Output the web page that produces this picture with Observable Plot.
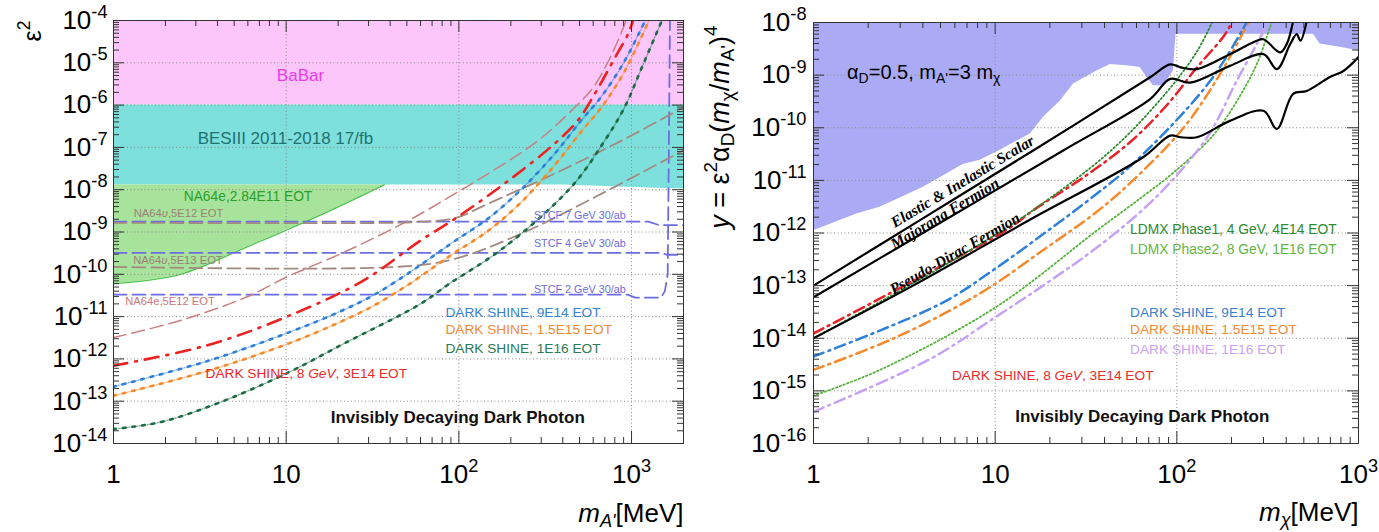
<!DOCTYPE html>
<html><head><meta charset="utf-8">
<script src="https://cdn.jsdelivr.net/npm/d3@7"></script>
<script src="https://cdn.jsdelivr.net/npm/@observablehq/plot@0.6"></script>
<style>
html,body{margin:0;padding:0;background:#fff;overflow:hidden}
#wrap{display:flex;width:1379px;height:532px}
#wrap svg{flex:none;max-width:none;overflow:visible}
</style></head><body><div id="wrap"></div>
<script>
const FONT = '"Liberation Sans", Arial, Helvetica, sans-serif';
const SERIF = '"Liberation Serif", "Times New Roman", serif';

// ================= LEFT PANEL: m_A' [MeV] vs epsilon^2 =================
const leftXTicks = [1, 10, 100, 1000];
const leftXTickLabels = ["1", "10", "10^{2}", "10^{3}"];
const leftYTicks = [1e-4, 1e-5, 1e-6, 1e-7, 1e-8, 1e-9, 1e-10, 1e-11, 1e-12, 1e-13, 1e-14];
const leftYTickLabels = ["10^{-4}", "10^{-5}", "10^{-6}", "10^{-7}", "10^{-8}", "10^{-9}", "10^{-10}", "10^{-11}", "10^{-12}", "10^{-13}", "10^{-14}"];

// excluded regions
const babarMass = [1, 2000];
const babarLow = [1e-6, 1e-6];
const babarHigh = [1e-4, 1e-4];
const besMass = [1, 400, 1700, 2000];
const besLow = [1.3e-8, 1.3e-8, 1.05e-8, 1.05e-8];
const besHigh = [1e-6, 1e-6, 1e-6, 1e-6];
const na64eMass = [1, 2.44, 5.9, 10, 18, 37];
const na64eLow = [6e-11, 1.0e-10, 4.4e-10, 1.1e-9, 3.2e-9, 1.3e-8];
const na64eHigh = [1.3e-8, 1.3e-8, 1.3e-8, 1.3e-8, 1.3e-8, 1.3e-8];

// projected sensitivities [mass, eps^2]
const na64e5e12 = [[1,3.2e-12],[2.44,8.1e-12],[5.9,2.9e-11],[10,8.5e-11],[22.6,3.6e-10],[55,2.2e-9],[94,7.9e-9],[148,2.4e-8],[288,1.45e-7],[470,8.9e-7],[600,2.6e-6],[750,1.3e-5],[900,7e-5],[960,1.5e-4]];
const na64u5e12 = [[1,1.65e-9],[40,1.65e-9],[60,1.75e-9],[94,2.1e-9],[148,4.7e-9],[359,2.4e-8],[877,1.45e-7],[2000,8.9e-7]];
const na64u5e13 = [[1,1.5e-10],[44,1.5e-10],[94,2.3e-10],[229,9.1e-10],[560,5.5e-9],[2000,8.5e-8]];
const stcf7 = [[1,1.75e-9],[1250,1.75e-9],[1450,1.45e-9],[2000,1.45e-9]];
const stcf4 = [[1,3.2e-10],[1500,3.2e-10],[1600,2.9e-10],[2000,2.9e-10]];
const stcf2 = [[1,3.3e-11],[950,3.3e-11],[1050,2.8e-11],[1480,2.8e-11],[1560,4e-11],[1620,1e-10],[1670,1e-4]];
const dsRedL = [[1,6.9e-13],[3.5,2.1e-12],[10,9.8e-12],[28,7.1e-11],[60,6.3e-10],[94,2.0e-9],[184,1.4e-8],[359,1.23e-7],[490,4.4e-7],[615,1.9e-6],[800,1.3e-5],[960,5e-5],[1020,1e-4]];
const dsBlueL = [[1,2.2e-13],[3.5,8.9e-13],[10,4.0e-12],[20,1.26e-11],[32,3.2e-11],[50,1.0e-10],[72,2.8e-10],[94,6.0e-10],[148,2.1e-9],[229,1.0e-8],[359,7.1e-8],[513,4.4e-7],[670,1.6e-6],[912,1.1e-5],[1200,1e-4]];
const dsOrangeL = [[1,1.35e-13],[3.5,5.2e-13],[10,2.2e-12],[20,7.1e-12],[32,1.8e-11],[50,5.4e-11],[72,1.5e-10],[94,3.2e-10],[148,1.07e-9],[229,5.0e-9],[359,3.8e-8],[513,2.4e-7],[670,8.9e-7],[912,6.3e-6],[1260,1e-4]];
const dsGreenL = [[1,2.2e-14],[1.87,3.2e-14],[4,8.9e-14],[10,4.5e-13],[21.6,2.3e-12],[60,2.0e-11],[86,5.6e-11],[184,4.4e-10],[447,1.15e-8],[700,1.45e-7],[912,8.9e-7],[1150,7.9e-6],[1500,1e-4]];

// ================= RIGHT PANEL: m_chi [MeV] vs y =================
const rightXTicks = [1, 10, 100, 1000];
const rightXTickLabels = ["1", "10", "10^{2}", "10^{3}"];
const rightYTicks = [1e-8, 1e-9, 1e-10, 1e-11, 1e-12, 1e-13, 1e-14, 1e-15, 1e-16];
const rightYTickLabels = ["10^{-8}", "10^{-9}", "10^{-10}", "10^{-11}", "10^{-12}", "10^{-13}", "10^{-14}", "10^{-15}", "10^{-16}"];

const excludedMass = [1,1.73,2.32,4.03,6.67,8.26,10.6,15.6,18.5,22.8,27.0,36.3,43.0,53.1,62.8,68.4,74.3,84.3,95.7,99,565,615,793,1000];
const excludedLow = [1.1e-12,2.3e-12,3.1e-12,7.4e-12,2.0e-11,2.4e-11,3.7e-11,7.6e-11,1.6e-10,3.2e-10,6.8e-10,1.2e-9,1.6e-9,1.5e-9,1.4e-9,9.1e-10,6.3e-10,6.3e-10,1.2e-9,6.0e-9,6.0e-9,3.9e-9,3.4e-9,2.9e-9];

const scalarTarget = [[1,1.0e-13],[4,1.9e-12],[16.2,3.7e-11],[71.3,9.1e-10],[92,1.6e-9],[105,1.4e-9],[129,1.3e-9],[196,2.5e-9],[275,4.5e-9],[300,4.8e-9],[355,2.9e-9],[372,2.7e-9],[403,3.9e-9],[437,1.07e-8]];
const majoranaTarget = [[1,6.0e-14],[4,1.0e-12],[23.7,3.7e-11],[71.3,3.5e-10],[92,8.5e-10],[118,7.2e-10],[196,1.5e-9],[300,2.5e-9],[355,1.3e-9],[421,3.9e-9],[457,6.0e-9],[479,4.5e-9],[519,1.07e-8]];
const pseudoDiracTarget = [[1,1.0e-14],[3.53,1.0e-13],[15.6,1.8e-12],[65.2,2.75e-11],[92,7.1e-11],[105,6.6e-11],[129,6.6e-11],[196,1.35e-10],[300,2.1e-10],[355,9.5e-11],[437,4.4e-10],[519,5.0e-10],[692,9.1e-10],[826,1.2e-9],[1000,2.2e-9]];
const dsRedR = [[1,1.23e-14],[3.16,1.0e-13],[11.8,1.2e-12],[16.2,2.7e-12],[31.6,1.23e-11],[56.2,5.6e-11],[89,2.8e-10],[129,1.4e-9],[182,5.6e-9],[204,1.1e-8]];
const dsBlueR = [[1,4.5e-15],[2.32,1.4e-14],[5.4,5.2e-14],[10.2,2.2e-13],[19.1,1.05e-12],[36.1,5.5e-12],[52.8,1.6e-11],[95.7,1.2e-10],[158,9.1e-10],[233,7.9e-9],[245,1.1e-8]];
const dsOrangeR = [[1,2.5e-15],[2.86,1.05e-14],[8.24,7.1e-14],[19.1,5.2e-13],[36.1,2.5e-12],[55.3,8.9e-12],[109,1.0e-10],[173,1.05e-9],[251,1.1e-8]];
const dsPurpleR = [[1,4.0e-16],[4.37,4.0e-15],[10,2.5e-14],[19.1,1.1e-13],[35.5,5.0e-13],[65.2,2.8e-12],[100,1.26e-11],[151,7.6e-11],[214,7.9e-10],[300,6.9e-9],[316,1.1e-8]];
const ldmx1 = [[1,1.0e-14],[3.16,8.9e-14],[7.9,5.6e-13],[15.6,2.5e-12],[42.7,3.5e-11],[84.3,4.0e-10],[129,2.8e-9],[158,1.1e-8]];
const ldmx2 = [[1,8.1e-16],[2.32,2.5e-15],[10.2,4.0e-14],[36.1,1.1e-12],[65.2,5.0e-12],[95.7,1.4e-11],[158,7.1e-11],[214,3.2e-10],[275,1.6e-9],[326,8.1e-9],[340,1.2e-8]];

// ================= annotations =================
const leftNotes = [
  {t:"BaBar", x:12.1, y:3.8e-6, c:"#ee3bee", s:17, a:"middle"},
  {t:"BESIII 2011-2018 17/fb", x:9.9, y:1.2e-7, c:"#1f7272", s:17, a:"middle"},
  {t:"NA64e,2.84E11 EOT", x:2.55, y:5.3e-9, c:"#2aa02a", s:13.8},
  {t:"NA64*υ*,5E12 EOT", x:1.31, y:2.26e-9, c:"#9c8078", s:11.2},
  {t:"NA64*υ*,5E13 EOT", x:1.3, y:1.78e-10, c:"#9c8078", s:11.2},
  {t:"NA64e,5E12 EOT", x:1.17, y:1.83e-11, c:"#c87878", s:11.2},
  {t:"STCF 7 GeV 30/ab", x:272, y:2.05e-9, c:"#6a6ae0", s:10.8},
  {t:"STCF 4 GeV 30/ab", x:272, y:4.36e-10, c:"#6a6ae0", s:10.8},
  {t:"STCF 2 GeV 30/ab", x:272, y:3.66e-11, c:"#6a6ae0", s:10.8},
  {t:"DARK SHINE, 9E14 EOT", x:83.6, y:9.7e-12, c:"#3a80d0", s:13.7},
  {t:"DARK SHINE, 1.5E15 EOT", x:83.6, y:3.8e-12, c:"#f08a35", s:13.7},
  {t:"DARK SHINE, 1E16 EOT", x:83.6, y:1.36e-12, c:"#2a7a55", s:13.7},
  {t:"DARK SHINE, 8 *GeV*, 3E14 EOT", x:3.41, y:3.6e-13, c:"#e82a2a", s:13.7},
  {t:"Invisibly Decaying Dark Photon", x:18.1, y:3.1e-14, c:"#111", s:17, w:"bold"}
];
const rightNotes = [
  {t:"α_{D}=0.5, m_{A'}=3 m_{χ}", x:1.53, y:8.55e-10, c:"#000", s:20},
  {t:"LDMX Phase1, 4 GeV, 4E14 EOT", x:55.3, y:9.7e-13, c:"#2e8a2e", s:13.8},
  {t:"LDMX Phase2, 8 GeV, 1E16 EOT", x:55.3, y:4.0e-13, c:"#62b445", s:13.8},
  {t:"DARK SHINE, 9E14 EOT", x:55.3, y:2.5e-14, c:"#3a80d0", s:13.7},
  {t:"DARK SHINE, 1.5E15 EOT", x:55.3, y:1.19e-14, c:"#f08a35", s:13.7},
  {t:"DARK SHINE, 1E16 EOT", x:55.3, y:5.1e-15, c:"#c9a3f2", s:13.7},
  {t:"DARK SHINE, 8 *GeV*, 3E14 EOT", x:5.78, y:1.59e-15, c:"#e82a2a", s:13.7},
  {t:"Invisibly Decaying Dark Photon", x:12.9, y:2.57e-16, c:"#111", s:17, w:"bold"},
  {t:"Elastic & Inelastic Scalar", x:6.62, y:9.5e-12, c:"#000", s:15.5, a:"middle", la:"middle", r:-31, f:SERIF, w:"bold", i:"italic"},
  {t:"Majorana Fermion", x:5.29, y:2.34e-12, c:"#000", s:15.5, a:"middle", la:"middle", r:-31, f:SERIF, w:"bold", i:"italic"},
  {t:"Pseudo-Dirac Fermion", x:6.0, y:4.08e-13, c:"#000", s:15.5, a:"middle", la:"middle", r:-30, f:SERIF, w:"bold", i:"italic"}
];

// ================= helpers =================
function minors(lo, hi) {
  const out = [];
  for (let e = Math.floor(Math.log10(lo)); e <= Math.ceil(Math.log10(hi)); e++)
    for (let k = 2; k <= 9; k++) { const v = k * Math.pow(10, e); if (v > lo * 1.0001 && v < hi / 1.0001) out.push(v); }
  return out;
}
const line = (pts, o) => Plot.line(pts, {x: d => d[0], y: d => d[1], clip: true, curve: "catmull-rom", ...o});
// two-tone dotted line (light fine dots + heavier periodic dots)
const dotted = (pts, color) => [
  line(pts, {stroke: color, strokeOpacity: 0.55, strokeWidth: 1.4, strokeDasharray: "1,1.6"}),
  line(pts, {stroke: color, strokeWidth: 2.6, strokeDasharray: "2.6,7"})
];
const notes = (arr) => arr.map(n => Plot.text([n], {
  x: "x", y: "y", text: "t", fill: n.c, fontSize: n.s, textAnchor: n.a || "start",
  lineAnchor: n.la || "bottom", rotate: n.r || 0, fontFamily: n.f || FONT,
  fontWeight: n.w || "normal", fontStyle: n.i || "normal"
}));
function frameTicks(xMaj, xMin, yMaj, yMin, W, H) {
  const c = "#333";
  return [
    Plot.tickY(yMaj, {y: d => d, insetRight: W - 11, stroke: c}),
    Plot.tickY(yMin, {y: d => d, insetRight: W - 6, stroke: c}),
    Plot.tickY(yMaj, {y: d => d, insetLeft: W - 11, stroke: c}),
    Plot.tickY(yMin, {y: d => d, insetLeft: W - 6, stroke: c}),
    Plot.tickX(xMaj, {x: d => d, insetTop: H - 12, stroke: c}),
    Plot.tickX(xMin, {x: d => d, insetTop: H - 6, stroke: c}),
    Plot.tickX(xMaj, {x: d => d, insetBottom: H - 12, stroke: c}),
    Plot.tickX(xMin, {x: d => d, insetBottom: H - 6, stroke: c})
  ];
}
const grid = (xs, ys) => [
  Plot.ruleX(xs, {x: d => d, stroke: "#8a8a8a", strokeDasharray: "1,2.5", strokeWidth: 1}),
  Plot.ruleY(ys, {y: d => d, stroke: "#8a8a8a", strokeDasharray: "1,2.5", strokeWidth: 1})
];
const axisLabels = (xT, xL, yT, yL, dxY) => [
  Plot.text(yT, {y: d => d, text: (d, i) => yL[i], frameAnchor: "left", textAnchor: "end", dx: dxY, fontSize: 26, fontFamily: FONT, fill: "#000"}),
  Plot.text(xT, {x: d => d, text: (d, i) => xL[i], frameAnchor: "bottom", lineAnchor: "bottom", dy: 39, fontSize: 26, fontFamily: FONT, fill: "#000"})
];
const zipArea = (xs, lo, hi) => xs.map((x, i) => ({x, lo: lo[i], hi: hi[i]}));
const area = (xs, lo, hi, o) => Plot.areaY(zipArea(xs, lo, hi), {x: "x", y1: "lo", y2: "hi", clip: true, ...o});

// ================= LEFT PLOT =================
const LW = 690 - 113 - 7, LH = 532 - 20 - 89;
const left = Plot.plot({
  width: 690, height: 532,
  marginLeft: 113, marginRight: 7, marginTop: 20, marginBottom: 89,
  x: {type: "log", domain: [1, 2000], axis: null},
  y: {type: "log", domain: [1e-14, 1e-4], axis: null},
  style: {fontFamily: FONT, background: "white", overflow: "visible"},
  marks: [
    area(babarMass, babarLow, babarHigh, {fill: "#fdc6fb", curve: "linear"}),
    area(besMass, besLow, besHigh, {fill: "#7ee0dd", curve: "linear"}),
    area(na64eMass, na64eLow, na64eHigh, {fill: "#a7e39b", curve: "catmull-rom"}),
    line(na64eMass.map((m, i) => [m, na64eLow[i]]), {stroke: "#4cc34c", strokeWidth: 1.2}),
    ...grid([10, 100, 1000], [1e-5,1e-6,1e-7,1e-8,1e-9,1e-10,1e-11,1e-12,1e-13]),
    line(stcf7, {stroke: "#6d6de3", strokeWidth: 1.8, strokeDasharray: "13,6", curve: "linear"}),
    line(stcf4, {stroke: "#6d6de3", strokeWidth: 1.8, strokeDasharray: "13,6", curve: "linear"}),
    line(stcf2, {stroke: "#6d6de3", strokeWidth: 1.8, strokeDasharray: "13,6", curve: "linear"}),
    line(na64e5e12, {stroke: "#c98080", strokeWidth: 1.5, strokeDasharray: "13,6"}),
    line(na64u5e12, {stroke: "#a38a80", strokeWidth: 1.8, strokeDasharray: "13,6"}),
    line(na64u5e13, {stroke: "#a38a80", strokeWidth: 1.8, strokeDasharray: "13,6"}),
    ...dotted(dsGreenL, "#1d6b45"),
    ...dotted(dsOrangeL, "#f58a2c"),
    ...dotted(dsBlueL, "#2f80d8"),
    line(dsRedL, {stroke: "#ee2020", strokeWidth: 2.6, strokeDasharray: "14,8,2,8"}),
    ...frameTicks([1,10,100,1000], minors(1, 2000), leftYTicks, minors(1e-14, 1e-4), LW, LH),
    Plot.frame({stroke: "#333", strokeWidth: 1}),
    ...axisLabels(leftXTicks, leftXTickLabels, leftYTicks, leftYTickLabels, -6),
    Plot.text(["ε^{2}"], {text: d => d, frameAnchor: "top-left", rotate: -90, textAnchor: "end", lineAnchor: "bottom", dx: -73, dy: 0, fontSize: 25, fontFamily: FONT, fill: "#000"}),
    Plot.text(["*m*_{*A'*}[MeV]"], {text: d => d, frameAnchor: "bottom-right", textAnchor: "end", lineAnchor: "bottom", dy: 78, fontSize: 26, fontFamily: FONT, fill: "#000"}),
    ...notes(leftNotes)
  ]
});

// ================= RIGHT PLOT =================
const RW = 689 - 123 - 21, RH = 532 - 22 - 89;
const right = Plot.plot({
  width: 689, height: 532,
  marginLeft: 123, marginRight: 21, marginTop: 22, marginBottom: 89,
  x: {type: "log", domain: [1, 1000], axis: null},
  y: {type: "log", domain: [1e-16, 1e-8], axis: null},
  style: {fontFamily: FONT, background: "white", overflow: "visible"},
  marks: [
    area(excludedMass, excludedLow, excludedMass.map(() => 1e-8), {fill: "#ababf5", curve: "linear"}),
    ...grid([10, 100], [1e-9,1e-10,1e-11,1e-12,1e-13,1e-14,1e-15]),
    line(ldmx2, {stroke: "#55b23a", strokeWidth: 1.8, strokeDasharray: "1.5,2.5"}),
    line(dsPurpleR, {stroke: "#c7a2f2", strokeWidth: 2.5, strokeDasharray: "11,5,2,5"}),
    line(dsOrangeR, {stroke: "#f58a2c", strokeWidth: 2.5, strokeDasharray: "11,5,2,5"}),
    line(dsBlueR, {stroke: "#2f80d8", strokeWidth: 2.5, strokeDasharray: "11,5,2,5"}),
    line(dsRedR, {stroke: "#e8202a", strokeWidth: 2.5, strokeDasharray: "11,5,2,5"}),
    line(ldmx1, {stroke: "#2e8a2e", strokeWidth: 1.8, strokeDasharray: "1.5,2.5"}),
    line(scalarTarget, {stroke: "#000", strokeWidth: 2.2}),
    line(majoranaTarget, {stroke: "#000", strokeWidth: 2.2}),
    line(pseudoDiracTarget, {stroke: "#000", strokeWidth: 2.2}),
    ...frameTicks([1,10,100,1000], minors(1, 1000), rightYTicks, minors(1e-16, 1e-8), RW, RH),
    Plot.frame({stroke: "#333", strokeWidth: 1}),
    ...axisLabels(rightXTicks, rightXTickLabels, rightYTicks, rightYTickLabels, -7),
    Plot.text(["*y* = ε^{2}α_{D}(*m*_{χ}/*m*_{A'})^{4}"], {text: d => d, frameAnchor: "top-left", rotate: -90, textAnchor: "end", lineAnchor: "bottom", dx: -85, dy: 3, fontSize: 27, fontFamily: FONT, fill: "#000"}),
    Plot.text(["*m*_{*χ*}[MeV]"], {text: d => d, frameAnchor: "bottom-right", textAnchor: "end", lineAnchor: "bottom", dy: 77, fontSize: 26, fontFamily: FONT, fill: "#000"}),
    ...notes(rightNotes)
  ]
});

const wrap = document.getElementById("wrap");
wrap.append(left, right);

// rich text: *italic*, ^{sup}, _{sub}
const SVGNS = "http://www.w3.org/2000/svg";
function richify(root) {
  root.querySelectorAll("text").forEach(el => {
    const s = el.textContent;
    if (!/[\^_*]/.test(s)) return;
    const fs = parseFloat(getComputedStyle(el).fontSize) || 14;
    const segs = [];
    let italic = false, buf = "", i = 0;
    const flush = (mode) => { if (buf) segs.push({t: buf, mode, italic}); buf = ""; };
    while (i < s.length) {
      const c = s[i];
      if (c === "*") { flush("n"); italic = !italic; i++; }
      else if ((c === "^" || c === "_") && s[i + 1] === "{") {
        flush("n");
        const j = s.indexOf("}", i);
        for (const ch of s.slice(i + 2, j)) {
          if (ch === "*") { flush(c); italic = !italic; } else buf += ch;
        }
        flush(c);
        i = j + 1;
      } else { buf += c; i++; }
    }
    flush("n");
    el.textContent = "";
    let cur = 0;
    segs.forEach(sg => {
      const ts = document.createElementNS(SVGNS, "tspan");
      ts.textContent = sg.t;
      if (sg.italic) ts.setAttribute("font-style", "italic");
      const target = sg.mode === "^" ? -0.42 * fs : sg.mode === "_" ? 0.22 * fs : 0;
      if (sg.mode !== "n") ts.setAttribute("font-size", (0.7 * fs).toFixed(1));
      if (Math.abs(target - cur) > 1e-6) { ts.setAttribute("dy", (target - cur).toFixed(2)); cur = target; }
      el.appendChild(ts);
    });
  });
}
richify(left);
richify(right);
</script></body></html>
